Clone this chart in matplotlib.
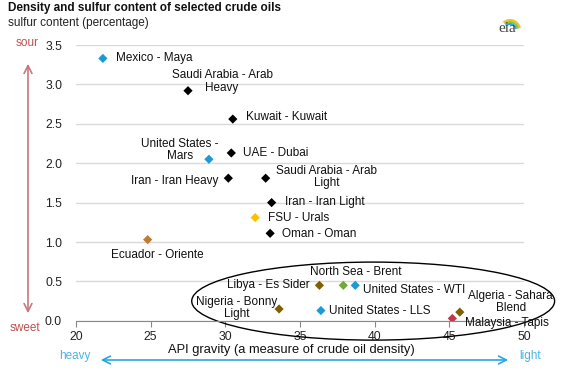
import numpy as np
import matplotlib
matplotlib.use("Agg")
import matplotlib.pyplot as plt
from matplotlib.patches import Ellipse, Arc

plt.rcParams['font.family'] = ['Liberation Sans', 'DejaVu Sans']

# Crude oils: API gravity, sulfur content (%)
names = ["Mexico - Maya", "Saudi Arabia - Arab\nHeavy", "Kuwait - Kuwait",
         "United States -\nMars", "UAE - Dubai", "Iran - Iran Heavy",
         "Saudi Arabia - Arab\nLight", "Iran - Iran Light", "FSU - Urals",
         "Oman - Oman", "Ecuador - Oriente", "Libya - Es Sider",
         "North Sea - Brent", "United States - WTI", "Nigeria - Bonny\nLight",
         "United States - LLS", "Algeria - Sahara\nBlend", "Malaysia - Tapis"]
api = [21.8, 27.5, 30.5, 28.9, 30.4, 30.2, 32.7, 33.1, 32.0, 33.0, 24.8,
       36.3, 37.9, 38.7, 33.6, 36.4, 45.7, 45.2]
sulfur = [3.33, 2.92, 2.56, 2.05, 2.13, 1.81, 1.81, 1.50, 1.31, 1.11, 1.03,
          0.45, 0.45, 0.45, 0.15, 0.13, 0.11, 0.03]
colors = ["#1b9ad6", "black", "black", "#1b9ad6", "black", "black", "black",
          "black", "#ffc000", "black", "#c07a33", "#7f6000", "#72a83c",
          "#1b9ad6", "#7f6000", "#1b9ad6", "#7f6000", "#c0394b"]

# label placement: offset in pixels and alignment
label_dx = [13, 34, 13, -29, 12, -10, 61, 13, 13, 12, 10, -10, 12, 8, -42, 8, 51, 13]
label_dy = [0, 9, 2, 9, 0, -3, 1, 1, 0, -1, -15, 0, 13, -5, 1, 0, 10, -5]
label_ha = ["left", "center", "left", "center", "left", "right", "center",
            "left", "left", "left", "center", "right", "center", "left",
            "center", "left", "center", "left"]

xticks = [20, 25, 30, 35, 40, 45, 50]
yticks = [0.0, 0.5, 1.0, 1.5, 2.0, 2.5, 3.0, 3.5]

W, H = 561, 376
fig = plt.figure(figsize=(W / 100, H / 100), dpi=100)
ax = fig.add_axes([76 / W, 1 - 320.8 / H, 448 / W, 275.8 / H])

ax.set_xlim(20, 50)
ax.set_ylim(0, 3.5)
ax.set_xticks(xticks)
ax.set_yticks(yticks)
ax.set_xticklabels([str(t) for t in xticks], fontsize=8.8, color="#222222")
ax.set_yticklabels(["%.1f" % t for t in yticks], fontsize=8.8, color="#222222")
ax.tick_params(axis="y", length=0, pad=10)
ax.tick_params(axis="x", length=4, color="#888888", pad=3)
for s in ["top", "right", "left"]:
    ax.spines[s].set_visible(False)
ax.spines["bottom"].set_color("#888888")
ax.grid(axis="y", color="#d9d9d9", lw=1)
ax.set_axisbelow(True)

ax.scatter(api, sulfur, marker="D", s=22, c=colors, zorder=3, linewidths=0)

for i in range(len(names)):
    ax.annotate(names[i], (api[i], sulfur[i]), xytext=(label_dx[i], label_dy[i]),
                textcoords="offset pixels", ha=label_ha[i], va="center",
                fontsize=8.5, color="#111111", linespacing=1.05, zorder=4)

ax.add_patch(Ellipse((39.9, 0.25), 24.3, 0.99, fill=False, ec="black",
                     lw=1, clip_on=False, zorder=2))

# title
fig.text(8 / W, 1 - 8 / H, "Density and sulfur content of selected crude oils",
         fontsize=8.5, fontweight="bold", va="center", color="#111111")
fig.text(8 / W, 1 - 23 / H, "sulfur content (percentage)",
         fontsize=8.5, va="center", color="#222222")

# sour / sweet arrow
fig.text(27 / W, 1 - 43 / H, "sour", fontsize=8.5, color="#c0504d",
         ha="center", va="center")
fig.text(25 / W, 1 - 328 / H, "sweet", fontsize=8.5, color="#c0504d",
         ha="center", va="center")
ax.annotate("", xy=(28, H - 61), xytext=(28, H - 316), xycoords="figure pixels",
            textcoords="figure pixels",
            arrowprops=dict(arrowstyle="<->", color="#c9767f", lw=1.2,
                            mutation_scale=14))

# heavy / light arrow
fig.text(75 / W, 1 - 356 / H, "heavy", fontsize=8.5, color="#4bb4e6",
         ha="center", va="center")
fig.text(530 / W, 1 - 356 / H, "light", fontsize=8.5, color="#4bb4e6",
         ha="center", va="center")
ax.annotate("", xy=(98, H - 360), xytext=(511, H - 360), xycoords="figure pixels",
            textcoords="figure pixels",
            arrowprops=dict(arrowstyle="<->", color="#2aa7df", lw=1.2,
                            mutation_scale=14))
fig.text(291 / W, 1 - 350 / H, "API gravity (a measure of crude oil density)",
         fontsize=9.3, color="#111111", ha="center", va="center",
         bbox=dict(fc="white", ec="none", pad=0.5))

# eia logo
fig.text(507 / W, 1 - 28 / H, "eia", fontsize=11, family="Liberation Serif",
         color="#444444", ha="center", va="center")
for r, c in [(10, "#f2c12e"), (8, "#8dc63f"), (6, "#2aa7df")]:
    fig.add_artist(Arc((510 / W, 1 - 30 / H), 2 * r / W, 2 * r / H, theta1=15,
                       theta2=120, color=c, lw=1.5, transform=fig.transFigure))

fig.savefig("out.png", dpi=100)
